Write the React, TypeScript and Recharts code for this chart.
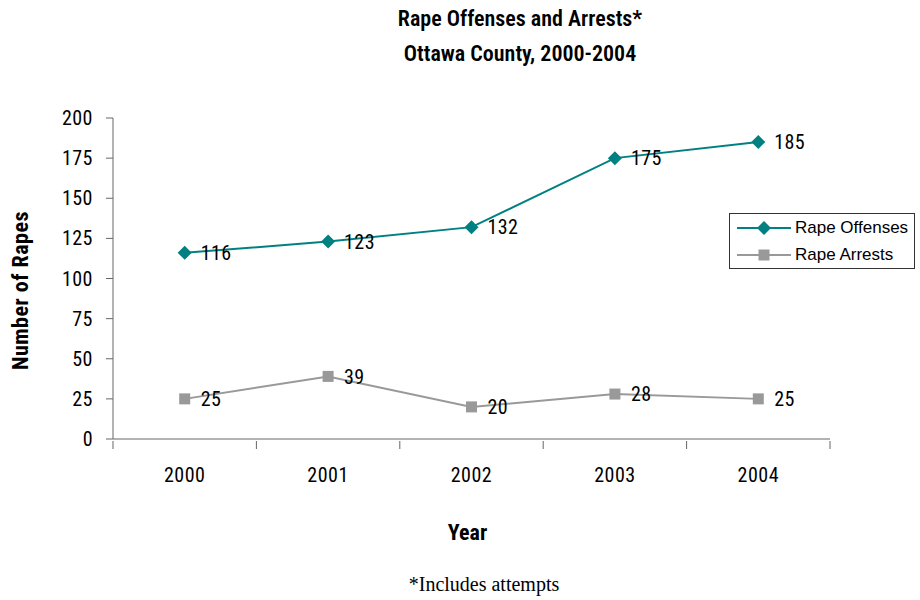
import { LineChart, Line, XAxis, YAxis, Legend, LabelList } from "recharts";

const years = ["2000", "2001", "2002", "2003", "2004"];
const offenses = [116, 123, 132, 175, 185];
const arrests = [25, 39, 20, 28, 25];
const yTicks = [0, 25, 50, 75, 100, 125, 150, 175, 200];

const data = years.map((year, i) => ({
    year,
    offenses: offenses[i],
    arrests: arrests[i],
}));

const narrow = '"Roboto Condensed", "Liberation Sans Narrow", "Arial Narrow", sans-serif';
const TEAL = "#008080";
const GRAY = "#999999";
const AXIS = "#666666";

function Diamond({ cx, cy, size = 7 }: any) {
    if (cx == null || cy == null) return null;
    return (
        <path
            d={`M${cx},${cy - size} L${cx + size},${cy} L${cx},${cy + size} L${cx - size},${cy} Z`}
            fill={TEAL}
            stroke="none"
        />
    );
}

function Square({ cx, cy, size = 5.5 }: any) {
    if (cx == null || cy == null) return null;
    return <rect x={cx - size} y={cy - size} width={size * 2} height={size * 2} fill={GRAY} />;
}

function XTick(props: any) {
    const { x, y, payload, index, width, visibleTicksCount } = props;
    const half = width / (visibleTicksCount || 5) / 2;
    const last = index === (visibleTicksCount || 5) - 1;
    return (
        <g>
            <line x1={x - half} y1={y} x2={x - half} y2={y + 8} stroke={AXIS} />
            {last && <line x1={x + half} y1={y} x2={x + half} y2={y + 8} stroke={AXIS} />}
            <text
                x={x}
                y={y + 34}
                textAnchor="middle"
                dominantBaseline="central"
                fontFamily={narrow}
                fontSize={20}
                letterSpacing={0.5}
                fill="#000"
            >
                {payload.value}
            </text>
        </g>
    );
}

function LegendBox() {
    const items = [
        { name: "Rape Offenses", color: TEAL, marker: "diamond" },
        { name: "Rape Arrests", color: GRAY, marker: "square" },
    ];
    return (
        <div
            style={{
                border: "1px solid #333",
                width: 186,
                height: 56,
                boxSizing: "border-box",
                padding: "0 0 0 7px",
                background: "#fff",
            }}
        >
            {items.map((it) => (
                <div key={it.name} style={{ display: "flex", alignItems: "center", height: 27 }}>
                    <svg width={58} height={16}>
                        <line x1={0} y1={8} x2={54} y2={8} stroke={it.color} strokeWidth={2} />
                        {it.marker === "diamond" ? (
                            <path d="M27,1 L34,8 L27,15 L20,8 Z" fill={it.color} />
                        ) : (
                            <rect x={21.5} y={2.5} width={11} height={11} fill={it.color} />
                        )}
                    </svg>
                    <span
                        style={{
                            fontFamily: '"Liberation Sans", Arial, sans-serif',
                            fontSize: 17,
                            color: "#000",
                        }}
                    >
                        {it.name}
                    </span>
                </div>
            ))}
        </div>
    );
}

export default function App() {
    const textStyle = {
        position: "absolute" as const,
        left: 0,
        width: 920,
        textAlign: "center" as const,
        color: "#000",
    };
    return (
        <div style={{ position: "absolute", left: 0, top: 0, width: 920, height: 600, background: "#fff" }}>
            <div
                style={{
                    ...textStyle,
                    left: 120,
                    width: 800,
                    top: 1,
                    fontFamily: narrow,
                    fontWeight: 600,
                    fontSize: 22,
                    lineHeight: "35px",
                }}
            >
                Rape Offenses and Arrests*
                <br />
                Ottawa County, 2000-2004
            </div>
            <LineChart
                width={920}
                height={600}
                data={data}
                margin={{ top: 118, right: 90, bottom: 61, left: 13 }}
            >
                <XAxis
                    dataKey="year"
                    scale="band"
                    height={100}
                    stroke={AXIS}
                    tickLine={false}
                    tickSize={0}
                    tick={<XTick />}
                    interval={0}
                    label={{
                        content: ({ viewBox }: any) => (
                            <text
                                x={viewBox.x + viewBox.width / 2 - 4}
                                y={viewBox.y + 93}
                                textAnchor="middle"
                                dominantBaseline="central"
                                fontFamily={narrow}
                                fontWeight="bold"
                                fontSize={22}
                                fill="#000"
                            >
                                Year
                            </text>
                        ),
                    }}
                />
                <YAxis
                    domain={[0, 200]}
                    ticks={yTicks}
                    width={100}
                    stroke={AXIS}
                    tickSize={7}
                    tickMargin={13}
                    interval={0}
                    tick={{ fill: "#000", fontSize: 20, fontFamily: narrow, letterSpacing: 0.5 }}
                    label={{
                        content: ({ viewBox }: any) => {
                            const x = viewBox.x + 7;
                            const y = viewBox.y + viewBox.height / 2 + 12;
                            return (
                                <text
                                    x={x}
                                    y={y}
                                    transform={`rotate(-90 ${x} ${y})`}
                                    textAnchor="middle"
                                    dominantBaseline="central"
                                    fontFamily={narrow}
                                    fontWeight="bold"
                                    fontSize={22}
                                    letterSpacing={0.5}
                                    fill="#000"
                                >
                                    Number of Rapes
                                </text>
                            );
                        },
                    }}
                />
                <Legend
                    layout="vertical"
                    align="center"
                    verticalAlign="middle"
                    content={<LegendBox />}
                    wrapperStyle={{ left: 729, top: 213, width: 186, height: 56 }}
                />
                <Line
                    dataKey="offenses"
                    name="Rape Offenses"
                    stroke={TEAL}
                    strokeWidth={2}
                    dot={<Diamond />}
                    activeDot={false}
                    isAnimationActive={false}
                >
                    <LabelList
                        dataKey="offenses"
                        position="right"
                        offset={16}
                        fill="#000"
                        fontSize={20}
                        fontFamily={narrow}
                        letterSpacing={0.4}
                    />
                </Line>
                <Line
                    dataKey="arrests"
                    name="Rape Arrests"
                    stroke={GRAY}
                    strokeWidth={2}
                    dot={<Square />}
                    activeDot={false}
                    isAnimationActive={false}
                >
                    <LabelList
                        dataKey="arrests"
                        position="right"
                        offset={16}
                        fill="#000"
                        fontSize={20}
                        fontFamily={narrow}
                        letterSpacing={0.4}
                    />
                </Line>
            </LineChart>
            <div
                style={{
                    ...textStyle,
                    left: 0,
                    width: 968,
                    top: 573,
                    fontFamily: '"Liberation Serif", "Times New Roman", serif',
                    fontSize: 20,
                }}
            >
                *Includes attempts
            </div>
        </div>
    );
}
